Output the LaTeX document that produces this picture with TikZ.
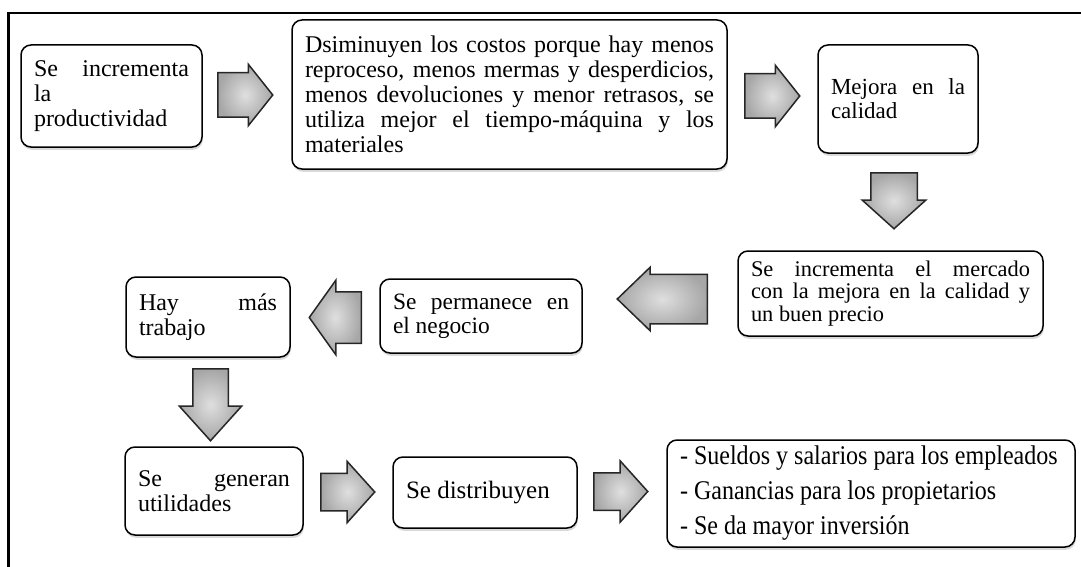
\documentclass[tikz,border=0pt]{standalone}
\usepackage{fontspec}
\setmainfont{Liberation Serif}
\newfontfamily\condensedserif[FakeStretch=0.89]{Liberation Serif}
\usepackage{tikz}
\usetikzlibrary{shapes.arrows, shadows}
\tikzset{
  box/.style={
    draw,
    line width = 0.75pt,
    rounded corners = 5pt,
    fill = white,
    align = justify,
    inner xsep = 6.5pt,
    inner ysep = 0pt,
    drop shadow = {shadow xshift=0.4pt, shadow yshift=-1.4pt, opacity=0.3}
  }
}
\tikzset{
  blockarrow/.style={
    single arrow,
    draw = black!85,
    line width = 0.75pt,
    inner color = gray!25,
    outer color = gray!70,
    single arrow head indent = 0pt,
    anchor = tail
  }
}

\begin{document}
\begin{tikzpicture}[x=0.5pt, y=-0.5pt, every node/.style={font=\fontsize{12}{12.5}\selectfont}]
\newcommand\jline[1]{\makebox[\hsize][s]{\spaceskip=0pt\relax #1}}
\useasboundingbox (0,0) rectangle (1081,567);
\draw[line width=1.3pt] (1081,13) -- (8.5,13) -- (8.5,567);

\node[box, text width=77.5pt, minimum height=51pt] (A1) at (111.5,96) {\jline{Se incrementa}\\la\\productividad};
\node[box, text width=204.5pt, minimum height=74.5pt] (A2) at (509.5,94.5) {\jline{Dsiminuyen los costos porque hay menos}\\
  \jline{reproceso, menos mermas y desperdicios,}\\
  \jline{menos devoluciones y menor retrasos, se}\\
  \jline{utiliza mejor el tiempo-máquina y los}\\
  materiales};
\node[box, text width=67pt, minimum height=54pt, font=\fontsize{11.5}{12}\selectfont] (A3) at (898,99) {\jline{Mejora en la}\\calidad};
\node[box, text width=139.5pt, minimum height=42.5pt, font=\fontsize{11.2}{11.2}\selectfont] (A4) at (890.5,293.5) {\jline{Se incrementa el mercado}\\
  \jline{con la mejora en la calidad y}\\
  un buen precio};
\node[box, text width=88pt, minimum height=37pt, font=\fontsize{11.7}{12}\selectfont] (A5) at (481,316) {\jline{Se permanece en}\\el negocio};
\node[box, text width=69pt, minimum height=40pt] (A6) at (208,317) {\jline{Hay más}\\trabajo};
\node[box, text width=76pt, minimum height=44pt] (A7) at (214,491) {\jline{Se generan}\\utilidades};
\node[box, text width=79pt, minimum height=35.5pt, font=\fontsize{12.5}{13}\selectfont] (A8) at (485,492.5) {Se distribuyen};
\node[box, text width=191pt, minimum height=53.5pt, font=\condensedserif\fontsize{13.5}{17.5}\selectfont] (A9) at (871,493.5) {- Sueldos y salarios para los empleados\\
  - Ganancias para los propietarios\\
  - Se da mayor inversión};

\node[blockarrow, minimum height=27.5pt, inner xsep=0pt, inner ysep=10.75pt, single arrow head extend=4.25pt, single arrow tip angle=103] (R1) at (217,95) {};
\node[blockarrow, minimum height=27.5pt, inner xsep=0pt, inner ysep=10.75pt, single arrow head extend=4.25pt, single arrow tip angle=103] (R2) at (744,96) {};
\node[blockarrow, minimum height=28pt, inner ysep=0pt, inner xsep=11.25pt, single arrow head extend=4.25pt, single arrow tip angle=96, shape border rotate=270] (R3) at (894,172) {};
\node[blockarrow, minimum height=45pt, inner xsep=0pt, inner ysep=12pt, single arrow head extend=3.5pt, single arrow tip angle=88, shape border rotate=180] (R4) at (708,299) {};
\node[blockarrow, minimum height=26pt, inner xsep=0pt, inner ysep=12.5pt, single arrow head extend=5.75pt, single arrow tip angle=109, shape border rotate=180] (R5) at (362,317.5) {};
\node[blockarrow, minimum height=36pt, inner ysep=0pt, inner xsep=8.5pt, single arrow head extend=6.75pt, single arrow tip angle=84, shape border rotate=270] (R6) at (210.5,368) {};
\node[blockarrow, minimum height=27pt, inner xsep=0pt, inner ysep=9pt, single arrow head extend=6pt, single arrow tip angle=96] (R7) at (320,492) {};
\node[blockarrow, minimum height=27pt, inner xsep=0pt, inner ysep=9pt, single arrow head extend=6pt, single arrow tip angle=96] (R8) at (593,491.5) {};
\end{tikzpicture}
\end{document}
